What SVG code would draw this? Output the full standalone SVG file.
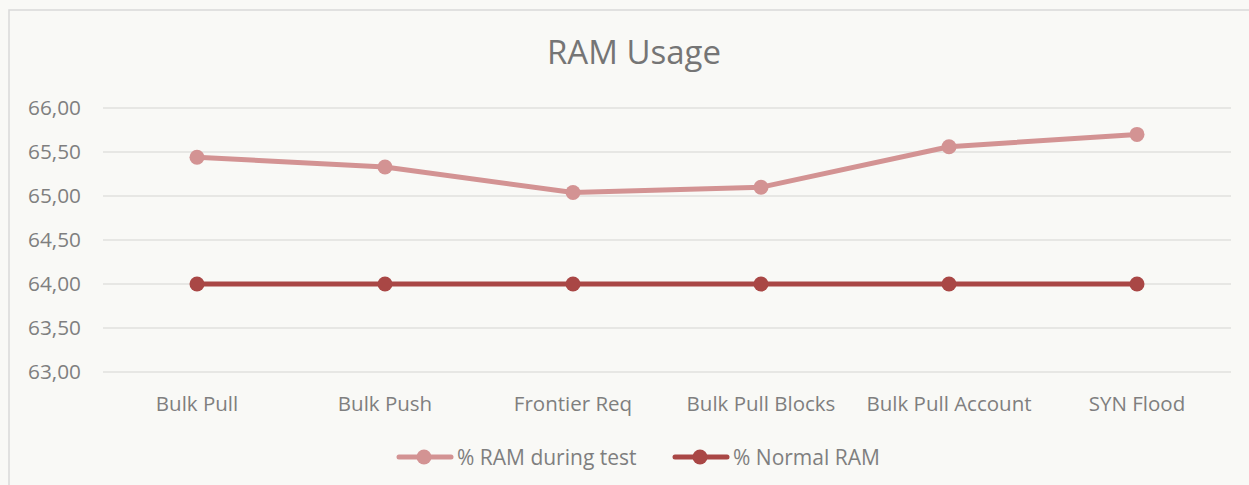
<svg xmlns="http://www.w3.org/2000/svg" width="1249" height="485" viewBox="0 0 1249 485">
  <style>
    .bg { fill: #f9f9f6; }
    .frame { fill: none; stroke: #d9d9d9; stroke-width: 1.5; }
    .grid { stroke: #e0e0de; stroke-width: 1.5; }
    text { font-family: "Open Sans", "Liberation Sans", sans-serif; fill: #7f7f7f; }
    .title { font-size: 33px; text-anchor: middle; fill: #757575; }
    .ylab { font-size: 20.8px; text-anchor: end; }
    .xlab { font-size: 20.5px; text-anchor: middle; }
    .leg { font-size: 21px; }
    .test { stroke: #d39393; fill: none; stroke-width: 5; stroke-linecap: round; stroke-linejoin: round; }
    .norm { stroke: #a94745; fill: none; stroke-width: 5; stroke-linecap: round; stroke-linejoin: round; }
    .testDot { fill: #d39393; }
    .normDot { fill: #a94745; }
  </style>

  <rect class="bg" x="0" y="0" width="1249" height="485"/>
  <rect class="frame" x="9" y="10" width="1260" height="500"/>

  <text class="title" x="634" y="64">RAM Usage</text>

  <!-- value gridlines and axis labels -->
  <g id="axis-y">
    <line class="grid" x1="103" y1="108" x2="1231" y2="108"/>
    <line class="grid" x1="103" y1="152" x2="1231" y2="152"/>
    <line class="grid" x1="103" y1="196" x2="1231" y2="196"/>
    <line class="grid" x1="103" y1="240" x2="1231" y2="240"/>
    <line class="grid" x1="103" y1="284" x2="1231" y2="284"/>
    <line class="grid" x1="103" y1="328" x2="1231" y2="328"/>
    <line class="grid" x1="103" y1="372" x2="1231" y2="372"/>
    <text class="ylab" x="81" y="115">66,00</text>
    <text class="ylab" x="81" y="159">65,50</text>
    <text class="ylab" x="81" y="203">65,00</text>
    <text class="ylab" x="81" y="247">64,50</text>
    <text class="ylab" x="81" y="291">64,00</text>
    <text class="ylab" x="81" y="335">63,50</text>
    <text class="ylab" x="81" y="379">63,00</text>
  </g>

  <!-- category labels -->
  <g id="axis-x">
    <text class="xlab" x="197" y="411">Bulk Pull</text>
    <text class="xlab" x="385" y="411">Bulk Push</text>
    <text class="xlab" x="573" y="411">Frontier Req</text>
    <text class="xlab" x="761" y="411">Bulk Pull Blocks</text>
    <text class="xlab" x="949" y="411">Bulk Pull Account</text>
    <text class="xlab" x="1137" y="411">SYN Flood</text>
  </g>

  <!-- series lines -->
  <g id="connectors">
    <polyline class="norm" points="197,284 385,284 573,284 761,284 949,284 1137,284"/>
    <polyline class="test" points="197,157.3 385,167 573,192.5 761,187.2 949,146.7 1137,134.4"/>
  </g>

  <g id="series-normal">
    <circle class="normDot" cx="197" cy="284" r="7.5"/>
    <circle class="normDot" cx="385" cy="284" r="7.5"/>
    <circle class="normDot" cx="573" cy="284" r="7.5"/>
    <circle class="normDot" cx="761" cy="284" r="7.5"/>
    <circle class="normDot" cx="949" cy="284" r="7.5"/>
    <circle class="normDot" cx="1137" cy="284" r="7.5"/>
  </g>

  <g id="series-test">
    <circle class="testDot" cx="197" cy="157.3" r="7.5"/>
    <circle class="testDot" cx="385" cy="167" r="7.5"/>
    <circle class="testDot" cx="573" cy="192.5" r="7.5"/>
    <circle class="testDot" cx="761" cy="187.2" r="7.5"/>
    <circle class="testDot" cx="949" cy="146.7" r="7.5"/>
    <circle class="testDot" cx="1137" cy="134.4" r="7.5"/>
  </g>

  <!-- legend -->
  <g id="legend">
    <line class="test" x1="399" y1="457" x2="451" y2="457"/>
    <circle class="testDot" cx="424" cy="457" r="7.5"/>
    <text class="leg" x="457" y="465">% RAM during test</text>
    <line class="norm" x1="675" y1="457" x2="727" y2="457"/>
    <circle class="normDot" cx="700" cy="457" r="7.5"/>
    <text class="leg" x="733" y="465">% Normal RAM</text>
  </g>
</svg>
